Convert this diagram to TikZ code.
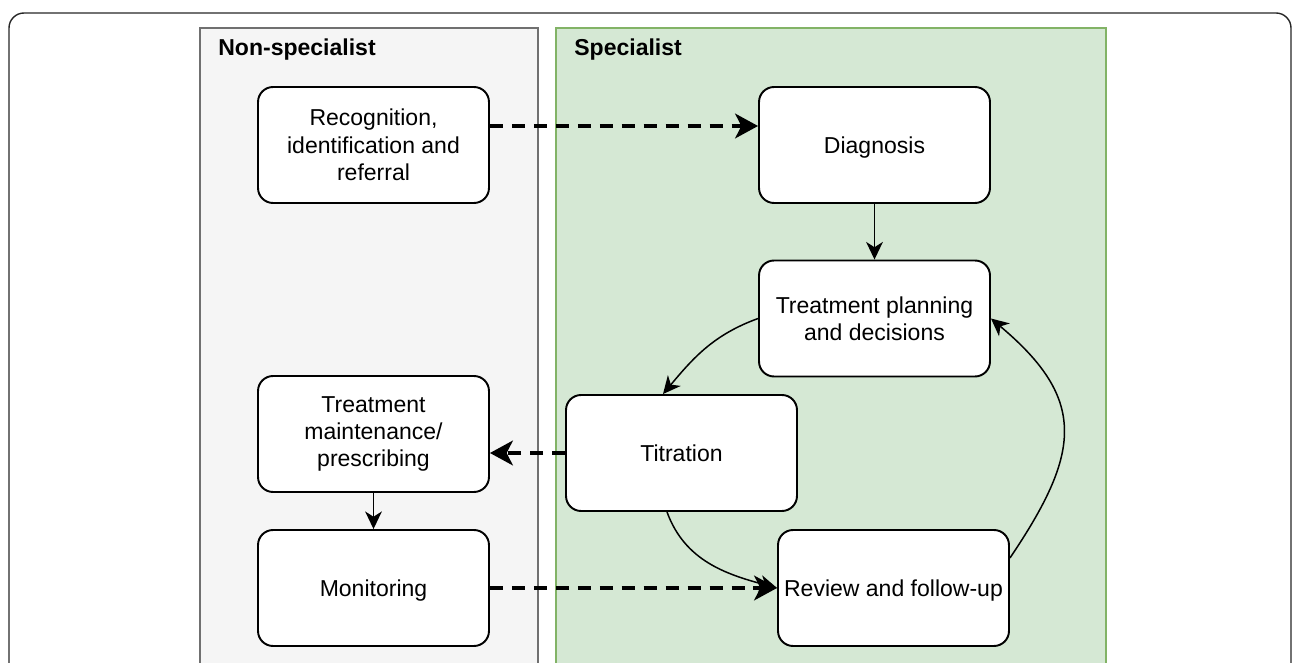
\documentclass[tikz,border=0pt]{standalone}
\usepackage{fontspec}
\setmainfont{Liberation Sans}
\usetikzlibrary{arrows.meta}
\definecolor{laneGrey}{HTML}{F5F5F5}
\definecolor{laneGreyLine}{HTML}{707070}
\definecolor{laneGreen}{HTML}{D5E8D4}
\definecolor{laneGreenLine}{HTML}{82B366}

\begin{document}
\begin{tikzpicture}[x=0.02cm, y=0.02cm,
	stepbox/.style={draw=black, fill=white, line width=1.1pt, rounded corners=0.3cm, minimum width=4.62cm, minimum height=2.32cm, inner sep=0pt, align=center, font=\fontsize{13.1}{15.6}\selectfont},
	oneline/.style={stepbox, text depth=0pt},
	lanehead/.style={anchor=west, inner sep=0pt, font=\fontsize{13.1}{15.6}\selectfont\bfseries},
	flow/.style={line width=0.85pt, -{Stealth[length=10pt, width=9.5pt, inset=3pt]}},
	handover/.style={line width=2.2pt, dash pattern=on 7.5pt off 5pt, -{Stealth[length=13pt, width=14pt, inset=3.5pt]}}]
		%%%%% START %%%%%
		
		\useasboundingbox (0, 0) rectangle (1296, 663);
		\clip (0, 0) rectangle (1296, 663);
		
		% figure frame and the two lanes
		\draw[black!85, line width=0.8pt, rounded corners=0.3cm] (9, -20) rectangle (1291, 650);
		\draw[laneGreyLine, fill=laneGrey, line width=0.8pt] (200, -20) rectangle (538, 635);
		\draw[laneGreenLine, fill=laneGreen, line width=0.8pt] (556, -20) rectangle (1106, 635);
		
		\node[lanehead] (nonspec) at (218, 613) {Non-specialist};
		\node[lanehead] (spec) at (574, 613) {Specialist};
		
		% steps
		\node[stepbox] (recog) at (373.5, 518) {Recognition,\\identification and\\referral};
		\node[oneline] (diag) at (874.5, 518) {Diagnosis};
		\node[stepbox] (plan) at (874.5, 344.5) {Treatment planning\\and decisions};
		\node[oneline] (titr) at (681.5, 210) {Titration};
		\node[stepbox] (maint) at (373.5, 229) {Treatment\\maintenance/\\prescribing};
		\node[oneline] (monit) at (373.5, 75) {Monitoring};
		\node[oneline] (review) at (893.5, 75) {Review and follow-up};
		
		% hand-overs between the lanes
		\draw[handover] ([yshift=0.38cm]recog.east) -- ([yshift=0.38cm]diag.west);
		\draw[handover] (titr.west) -- (maint.east |- titr.west);
		\draw[handover] (monit) -- (review);
		
		% flow inside the lanes
		\draw[flow] (diag) -- (plan);
		\draw[flow] (plan.west) to[out=200, in=50] ([xshift=-0.37cm]titr.north);
		\draw[flow] ([xshift=-0.29cm]titr.south) to[out=-70, in=165] (review.west);
		\draw[flow] ([yshift=0.6cm]review.east) to[out=56, in=-40, looseness=1.35] (plan.east);
		\draw[flow] (maint) -- (monit);
		
		%%%%% END %%%%%
	\end{tikzpicture}
\end{document}
